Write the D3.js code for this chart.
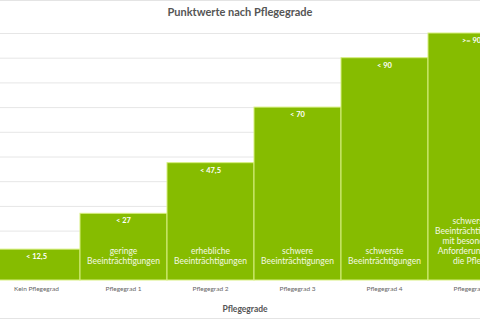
<!DOCTYPE html>
<html>
<head>
<meta charset="utf-8">
<script src="https://cdn.jsdelivr.net/npm/d3@7"></script>
<style>
  body { margin: 0; background: #fff; }
  svg { display: block; font-family: Lato, "Open Sans", sans-serif; }
</style>
</head>
<body>
<svg></svg>
<script>
// data
var grades = ["Kein Pflegegrad", "Pflegegrad 1", "Pflegegrad 2", "Pflegegrad 3", "Pflegegrad 4", "Pflegegrad 5"];
var points = [12.5, 27, 47.5, 70, 90, 100];
var valueLabels = ["< 12,5", "< 27", "< 47,5", "< 70", "< 90", ">= 90"];
var descriptions = [
    [],
    ["geringe", "Beeinträchtigungen"],
    ["erhebliche", "Beeinträchtigungen"],
    ["schwere", "Beeinträchtigungen"],
    ["schwerste", "Beeinträchtigungen"],
    ["schwerste", "Beeinträchtigungen", "mit besonderen", "Anforderungen an", "die Pflege"]
];
var gridTicks = [10, 20, 30, 40, 50, 60, 70, 80, 90, 100];

var W = 480, H = 320;
var svg = d3.select("svg").attr("width", W).attr("height", H);

var x = d3.scaleBand().domain(grades).range([-7, -7 + 87 * 6]).padding(0);
var y = d3.scaleLinear().domain([0, 100]).range([280, 33]);

// border lines
svg.append("line").attr("x1", 0).attr("x2", W).attr("y1", 0.5).attr("y2", 0.5)
    .attr("stroke", "#e4e4e4");
svg.append("line").attr("x1", 0).attr("x2", W).attr("y1", 318.5).attr("y2", 318.5)
    .attr("stroke", "#e4e4e4");

// title
svg.append("text").attr("x", 240).attr("y", 16)
    .attr("text-anchor", "middle").attr("font-size", 11).attr("font-weight", "bold")
    .attr("fill", "#555").text("Punktwerte nach Pflegegrade");

// gridlines
var grid = d3.axisLeft(y).tickValues(gridTicks).tickSize(-W).tickFormat("");
svg.append("g").attr("transform", "translate(0,0)").call(grid)
    .call(function(g){
        g.select(".domain").remove();
        g.selectAll("line").attr("stroke", "#e6e6e6");
    });

// bars
svg.selectAll("rect.bar").data(grades).enter().append("rect")
    .attr("class", "bar")
    .attr("x", function(d){ return x(d); })
    .attr("width", x.bandwidth())
    .attr("y", function(d, i){ return y(points[i]); })
    .attr("height", function(d, i){ return y(0) - y(points[i]); })
    .attr("fill", "#86bc00")
    .attr("stroke", "#d8ef80")
    .attr("stroke-width", 1);

// value labels
svg.selectAll("text.val").data(grades).enter().append("text")
    .attr("class", "val")
    .attr("x", function(d){ return x(d) + x.bandwidth() / 2; })
    .attr("y", function(d, i){ return y(points[i]) + 10; })
    .attr("text-anchor", "middle").attr("font-size", 7.5).attr("font-weight", "bold")
    .attr("fill", "#fff")
    .text(function(d, i){ return valueLabels[i]; });

// descriptions, bottom aligned
grades.forEach(function(g, i){
    var lines = descriptions[i];
    var n = lines.length;
    lines.forEach(function(t, j){
        svg.append("text")
            .attr("x", x(g) + x.bandwidth() / 2)
            .attr("y", 264 - (n - 1 - j) * 10)
            .attr("text-anchor", "middle").attr("font-size", 8.5)
            .attr("fill", "#f4f9e4")
            .text(t);
    });
});

// x axis labels
var xAxis = d3.axisBottom(x).tickSize(0).tickPadding(6);
svg.append("g").attr("transform", "translate(0,280)").call(xAxis)
    .call(function(g){
        g.select(".domain").remove();
        g.selectAll("text").attr("font-size", 6.5).attr("fill", "#666")
            .attr("font-family", "Lato, sans-serif");
    });

// axis title
svg.append("text").attr("x", 245).attr("y", 312)
    .attr("text-anchor", "middle").attr("font-size", 8.5).attr("font-weight", "bold")
    .attr("fill", "#555").text("Pflegegrade");
</script>
</body>
</html>
